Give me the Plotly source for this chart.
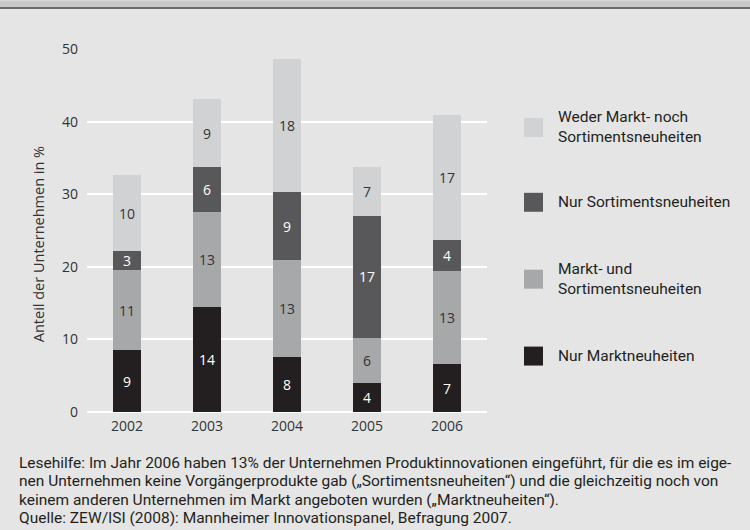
import plotly.graph_objects as go

years = ["2002", "2003", "2004", "2005", "2006"]
series_names = [
    "Nur Marktneuheiten",
    "Markt- und<br>Sortimentsneuheiten",
    "Nur Sortimentsneuheiten",
    "Weder Markt- noch<br>Sortimentsneuheiten",
]
nur_markt = [8.5, 14.4, 7.6, 4.0, 6.6]
markt_und_sort = [11.0, 13.2, 13.3, 6.2, 12.8]
nur_sort = [2.7, 6.1, 9.4, 16.8, 4.3]
weder = [10.4, 9.35, 18.3, 6.8, 17.2]
labels_nur_markt = ["9", "14", "8", "4", "7"]
labels_markt_und_sort = ["11", "13", "13", "6", "13"]
labels_nur_sort = ["3", "6", "9", "17", "4"]
labels_weder = ["10", "9", "18", "7", "17"]
y_ticks = [0, 10, 20, 30, 40, 50]
y_title = "Anteil der Unternehmen in %"

colors = ["#231f20", "#a7a8aa", "#58585a", "#d1d2d4"]
text_colors = ["#ffffff", "#333333", "#ffffff", "#333333"]
values = [nur_markt, markt_und_sort, nur_sort, weder]
labels = [labels_nur_markt, labels_markt_und_sort, labels_nur_sort, labels_weder]

W, H = 750, 530
L, R, T, B = 87, 487, 48.5, 412
SIDE_FONT = "Roboto, Open Sans"

def px(x):
    return (x - L) / (R - L)

def py(y):
    return (B - y) / (B - T)

fig = go.Figure()
for name, vals, lab, c, tc in zip(series_names, values, labels, colors, text_colors):
    fig.add_trace(go.Bar(
        x=years, y=vals, name=name, marker=dict(color=c, line=dict(width=0)),
        text=lab, textposition="inside", insidetextanchor="middle", textangle=0,
        textfont=dict(family="Open Sans", size=14, color=tc),
        constraintext="none", showlegend=False, hoverinfo="skip",
    ))

shapes = []
annotations = []
# top band
shapes.append(dict(type="rect", xref="paper", yref="paper", x0=px(0), x1=px(W), y0=py(0), y1=py(6.5),
                   fillcolor="#c9c9c9", line=dict(width=0), layer="above"))
shapes.append(dict(type="line", xref="paper", yref="paper", x0=px(0), x1=px(W), y0=py(7.5), y1=py(7.5),
                   line=dict(color="#6a6a6a", width=2), layer="above"))

# y-axis title
annotations.append(dict(xref="paper", yref="paper", x=px(38), y=py(244), xanchor="center", yanchor="middle",
                        text=y_title, textangle=-90, showarrow=False,
                        font=dict(family="Open Sans", size=14.5, color="#333333")))

# legend
leg_centers = [356, 279, 202, 127]
for name, c, yc in zip(series_names, colors, leg_centers):
    shapes.append(dict(type="rect", xref="paper", yref="paper", x0=px(524), x1=px(543),
                       y0=py(yc + 9.5), y1=py(yc - 9.5), fillcolor=c, line=dict(width=0)))
    annotations.append(dict(xref="paper", yref="paper", x=px(556), y=py(yc), xanchor="left", yanchor="middle",
                            text=name, showarrow=False, align="left",
                            font=dict(family=SIDE_FONT, size=15.5, color="#231f20")))

foot = [
    "Lesehilfe: Im Jahr 2006 haben 13% der Unternehmen Produktinnovationen eingeführt, für die es im eige-",
    "nen Unternehmen keine Vorgängerprodukte gab („Sortimentsneuheiten“) und die gleichzeitig noch von",
    "keinem anderen Unternehmen im Markt angeboten wurden („Marktneuheiten“).",
    "Quelle: ZEW/ISI (2008): Mannheimer Innovationspanel, Befragung 2007.",
]
foot_y = [463, 481.5, 500, 518.5]
for t, yy in zip(foot, foot_y):
    annotations.append(dict(xref="paper", yref="paper", x=px(17), y=py(yy), xanchor="left", yanchor="middle",
                            text=t, showarrow=False, align="left",
                            font=dict(family=SIDE_FONT, size=15.5, color="#231f20")))

fig.update_layout(
    width=W, height=H,
    margin=dict(l=L, r=W - R, t=T, b=H - B),
    paper_bgcolor="#e5e5e5", plot_bgcolor="#e5e5e5",
    barmode="stack", bargap=0.66,
    font=dict(family="Open Sans", size=14, color="#333333"),
    xaxis=dict(showgrid=False, showline=False, ticks="", tickfont=dict(size=14, color="#333333"),
               ticklabelstandoff=4),
    yaxis=dict(range=[0, 50], tickvals=y_ticks, showgrid=True, gridcolor="#ffffff", gridwidth=2,
               zeroline=True, zerolinecolor="#ffffff", zerolinewidth=2, showline=False,
               ticks="", ticklabelstandoff=8, tickfont=dict(size=14, color="#333333")),
    shapes=shapes, annotations=annotations,
)
fig.write_html("out.html", config={"displayModeBar": False},
               post_script="document.body.style.margin='0';document.body.style.overflow='hidden';")
